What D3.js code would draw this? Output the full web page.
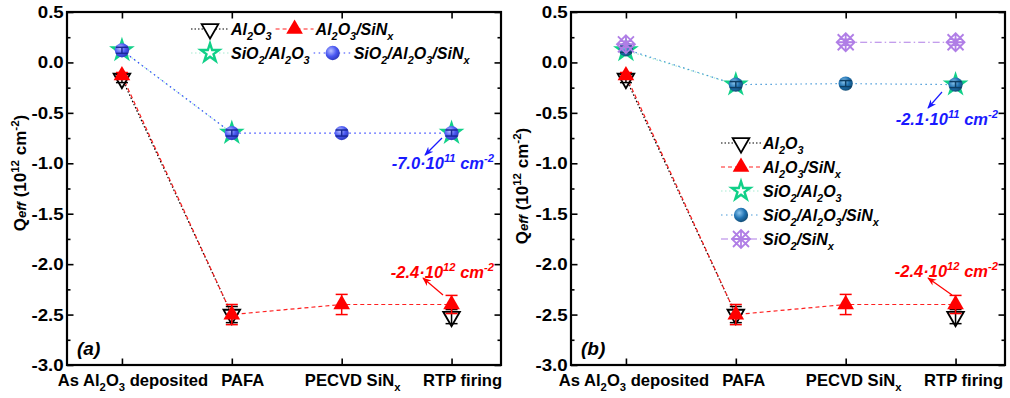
<!DOCTYPE html>
<html>
<head>
<meta charset="utf-8">
<script src="https://cdn.jsdelivr.net/npm/d3@7"></script>
<style>
  body { margin: 0; background: #fff; }
  svg { display: block; }
  text { font-family: "Liberation Sans", Arial, sans-serif; font-weight: bold; fill: #000; }
</style>
</head>
<body>
<svg id="chart" width="1010" height="398"></svg>
<script>
// markup: _{..} subscript, ^{..} superscript, ~{..} small italic
const categories = ["As Al_{2}O_{3} deposited", "PAFA", "PECVD SiN_{x}", "RTP firing"];
const seriesNames = ["Al_{2}O_{3}", "Al_{2}O_{3}/SiN_{x}", "SiO_{2}/Al_{2}O_{3}", "SiO_{2}/Al_{2}O_{3}/SiN_{x}", "SiO_{2}/SiN_{x}"];
const yTicks = [-3.0, -2.5, -2.0, -1.5, -1.0, -0.5, 0.0, 0.5];
const yMinor = [-2.75, -2.25, -1.75, -1.25, -0.75, -0.25, 0.25];

// Qeff values (1e12 cm^-2), null = not measured
const al2o3 = [-0.16, -2.5, null, -2.52];
const al2o3Err = [0.04, 0.08, null, 0.07];
const al2o3SiN = [-0.13, -2.5, -2.4, -2.4];
const al2o3SiNErr = [0.03, 0.1, 0.1, 0.09];
// panel (a)
const sio2Al2o3A = [0.12, -0.7, null, -0.7];
const sio2Al2o3SiNA = [0.12, -0.7, -0.7, -0.7];
// panel (b)
const sio2Al2o3B = [0.12, -0.22, null, -0.22];
const sio2Al2o3SiNB = [0.13, -0.22, -0.21, -0.22];
const sio2SiN = [0.18, null, 0.2, 0.2];
const smallErr = [0.03, 0.03, 0.03, 0.03];

const annotA = ["-7.0\u00B710^{11} cm^{-2}", "-2.4\u00B710^{12} cm^{-2}"];
const annotB = ["-2.1\u00B710^{11} cm^{-2}", "-2.4\u00B710^{12} cm^{-2}"];
const yLabel = "Q~{eff} (10^{12} cm^{-2})";

(() => {
const svg = d3.select("#chart");
const defs = svg.append("defs");

function sphere(id, light, base, dark) {
    const gr = defs.append("radialGradient").attr("id", id)
        .attr("cx", "38%").attr("cy", "35%").attr("r", "70%");
    gr.append("stop").attr("offset", "0%").attr("stop-color", light);
    gr.append("stop").attr("offset", "55%").attr("stop-color", base);
    gr.append("stop").attr("offset", "100%").attr("stop-color", dark);
}
sphere("sphA", "#b9c0ff", "#4a58f2", "#2c36b8");
sphere("sphB", "#8cc6ee", "#1f72b2", "#12496f");

["#ff0000", "#1a1aff"].forEach((c, i) => {
    defs.append("marker").attr("id", "arr" + i)
        .attr("viewBox", "0 0 10 10").attr("refX", 9).attr("refY", 5)
        .attr("markerWidth", 9).attr("markerHeight", 9).attr("markerUnits", "userSpaceOnUse")
        .attr("orient", "auto")
        .append("path").attr("d", "M0,1L10,5L0,9L3,5Z").attr("fill", c);
});

// rich text with sub/superscripts
function rich(sel, str, size) {
    const re = /([_^~])\{([^}]*)\}/g;
    let last = 0, m, cur = 0;
    const add = (txt, shift, fs, italic) => {
        if (!txt) return;
        const t = sel.append("tspan").text(txt).attr("font-size", fs);
        if (shift !== cur) t.attr("dy", shift - cur);
        if (italic) t.attr("font-style", "italic");
        cur = shift;
    };
    while ((m = re.exec(str)) !== null) {
        add(str.slice(last, m.index), 0, size);
        if (m[1] === "_") add(m[2], size * 0.3, size * 0.68);
        else if (m[1] === "^") add(m[2], -size * 0.42, size * 0.68);
        else add(m[2], 0, size * 0.78, true);
        last = re.lastIndex;
    }
    add(str.slice(last), 0, size);
    return sel;
}

const marginTop = 12, pw = 434, ph = 353;
const x = d3.scaleLinear().domain([-0.5, 3.45]).range([0, pw]);
const y = d3.scaleLinear().domain([-3, 0.5]).range([ph, 0]);
const line = d3.line().defined(d => d[1] != null).x(d => x(d[0])).y(d => y(d[1]));

const symbols = {
    down: { d: d3.symbol(d3.symbolTriangle, 120)(), rot: 180 },
    up: { d: d3.symbol(d3.symbolTriangle, 120)(), rot: 0 },
    star: { d: d3.symbol(d3.symbolStar, 105)(), rot: 0 },
    circle: { d: d3.symbol(d3.symbolCircle, 160)(), rot: 0 },
    xd: { d: "M-8,-8L8,8M-8,8L8,-8M0,-9L9,0L0,9L-9,0ZM-9,0L9,0M0,-9L0,9", rot: 0 }
};

function marker(g, s, cx, cy) {
    const sy = symbols[s.symbol];
    const p = g.append("path").attr("d", sy.d)
        .attr("transform", `translate(${cx},${cy}) rotate(${sy.rot})`);
    if (s.symbol === "down") p.attr("fill", "#fff").attr("stroke", "#000").attr("stroke-width", 1.8);
    else if (s.symbol === "up") p.attr("fill", "#ff0000");
    else if (s.symbol === "star") p.attr("fill", "#fff").attr("stroke", s.color).attr("stroke-width", 2.4).attr("stroke-linejoin", "miter");
    else if (s.symbol === "circle") p.attr("fill", s.fill);
    else p.attr("fill", "none").attr("stroke", s.color).attr("stroke-width", 1.8);
}

function seriesA(aVals, bVals, extra) {
    const list = [
        { name: seriesNames[0], values: al2o3, errs: al2o3Err, symbol: "down", color: "#000", line: "#000", dash: "1.5,2", errColor: "#000" },
        { name: seriesNames[1], values: al2o3SiN, errs: al2o3SiNErr, symbol: "up", color: "#ff0000", line: "#ff2020", dash: "4,3", errColor: "#ff0000" },
        aVals, bVals
    ];
    if (extra) list.push(extra);
    return list;
}

const panels = [
    {
        left: 67, tag: "(a)", labelX: -41, labelY: 161, catShift: 11,
        series: seriesA(
            { name: seriesNames[2], values: sio2Al2o3A, errs: smallErr, symbol: "star", color: "#10d088", line: "#a8ecd2", dash: "1.5,2.5", errColor: "#0a8a5a" },
            { name: seriesNames[3], values: sio2Al2o3SiNA, errs: smallErr, symbol: "circle", fill: "url(#sphA)", color: "#3a48f0", line: "#3344ff", dash: "1.5,3.5", errColor: "#1a2a9a" }
        ),
        annots: [
            { text: annotA[0], color: "#1a1aff", arr: 1, by: 157, from: [375, 126], to: [358, 143] },
            { text: annotA[1], color: "#ff0000", arr: 0, by: 266, from: [376, 283], to: [356, 266] }
        ],
        legend: "flow"
    },
    {
        left: 571, tag: "(b)", labelX: -43, labelY: 174, catShift: 8,
        series: seriesA(
            { name: seriesNames[2], values: sio2Al2o3B, errs: smallErr, symbol: "star", color: "#10d088", line: "#a8ecd2", dash: "1.5,2.5", errColor: "#0a8a5a" },
            { name: seriesNames[3], values: sio2Al2o3SiNB, errs: smallErr, symbol: "circle", fill: "url(#sphB)", color: "#1f72b2", line: "#4a9ad8", dash: "1.5,3.5", errColor: "#0d3f66" },
            { name: seriesNames[4], values: sio2SiN, errs: smallErr, symbol: "xd", color: "#b07ee6", line: "#b07ee6", dash: "7,3,1.5,3", errColor: "#b07ee6" }
        ),
        annots: [
            { text: annotB[0], color: "#1a1aff", arr: 1, by: 113, from: [371, 80], to: [357, 96] },
            { text: annotB[1], color: "#ff0000", arr: 0, by: 265, from: [381, 283], to: [357, 266] }
        ],
        legend: "column"
    }
];

panels.forEach(p => {
    const g = svg.append("g").attr("transform", `translate(${p.left},${marginTop})`);

    // axes, ticks pointing inward
    const axes = g.append("g");
    axes.append("g").call(d3.axisLeft(y).tickValues(yMinor).tickSize(-3.5).tickFormat(""));
    axes.append("g").attr("transform", `translate(${pw},0)`).call(d3.axisRight(y).tickValues(yMinor).tickSize(-3.5).tickFormat(""));
    axes.append("g").call(d3.axisLeft(y).tickValues(yTicks).tickSize(-6.5).tickPadding(3).tickFormat(d => d.toFixed(1)));
    axes.append("g").attr("transform", `translate(${pw},0)`).call(d3.axisRight(y).tickValues(yTicks).tickSize(-6.5).tickFormat(""));
    axes.append("g").attr("transform", `translate(0,${ph})`).call(d3.axisBottom(x).tickValues([0, 1, 2, 3]).tickSize(-6.5).tickFormat(""));
    axes.append("g").call(d3.axisTop(x).tickValues([0, 1, 2, 3]).tickSize(-6.5).tickFormat(""));
    axes.selectAll(".domain").remove();
    axes.selectAll(".tick line").attr("stroke", "#000").attr("stroke-width", 1.6);
    axes.selectAll(".tick text").attr("font-size", 17).attr("font-family", null).attr("fill", "#000")
        .attr("transform", "scale(1.1,1)");

    g.append("rect").attr("width", pw).attr("height", ph)
        .attr("fill", "none").attr("stroke", "#000").attr("stroke-width", 2.2);

    // category labels (sit a little right of their ticks in the original)
    categories.forEach((c, i) => {
        rich(g.append("text").attr("x", x(i) + p.catShift).attr("y", ph + 21)
            .attr("text-anchor", "middle"), c, 16.6);
    });

    // y label
    rich(g.append("text").attr("transform", `translate(${p.labelX},${p.labelY}) rotate(-90)`)
        .attr("text-anchor", "middle"), yLabel, 17);

    g.append("text").attr("x", 10).attr("y", ph - 10).attr("font-size", 19)
        .attr("font-style", "italic").text(p.tag);

    // series
    p.series.forEach(s => {
        const pts = s.values.map((v, i) => [i, v]);
        g.append("path").datum(pts).attr("d", line)
            .attr("fill", "none").attr("stroke", s.line).attr("stroke-width", 1.2)
            .attr("stroke-dasharray", s.dash);
    });
    p.series.forEach(s => {
        const pts = s.values.map((v, i) => [i, v, s.errs[i]]).filter(d => d[1] != null);
        pts.forEach(d => marker(g, s, x(d[0]), y(d[1])));
        pts.forEach(d => {
            const cx = x(d[0]), y1 = y(d[1] + d[2]), y2 = y(d[1] - d[2]);
            const e = g.append("g").attr("stroke", s.errColor).attr("stroke-width", 1.5);
            e.append("line").attr("x1", cx).attr("x2", cx).attr("y1", y1).attr("y2", y2);
            e.append("line").attr("x1", cx - 6).attr("x2", cx + 6).attr("y1", y1).attr("y2", y1);
            e.append("line").attr("x1", cx - 6).attr("x2", cx + 6).attr("y1", y2).attr("y2", y2);
        });
    });

    // annotations
    p.annots.forEach(a => {
        rich(g.append("text").attr("x", pw - 7).attr("y", a.by).attr("text-anchor", "end")
            .attr("font-style", "italic").style("fill", a.color), a.text, 16.5);
        g.append("line").attr("x1", a.from[0]).attr("y1", a.from[1]).attr("x2", a.to[0]).attr("y2", a.to[1])
            .attr("stroke", a.color).attr("stroke-width", 1.2).attr("marker-end", `url(#arr${a.arr})`);
    });

    // legend
    const lg = g.append("g");
    const item = (s, lx, ly, len) => {
        lg.append("line").attr("x1", lx).attr("x2", lx + len).attr("y1", ly).attr("y2", ly)
            .attr("stroke", s.line).attr("stroke-width", 1.2).attr("stroke-dasharray", s.dash);
        marker(lg, s, lx + len / 2, ly);
        const t = rich(lg.append("text").attr("x", lx + len + 2).attr("y", ly).attr("dy", "0.36em")
            .attr("font-style", "italic"), s.name, 16);
        return lx + len + 2 + t.node().getComputedTextLength();
    };
    if (p.legend === "flow") {
        const rows = [[p.series[0], p.series[1]], [p.series[2], p.series[3]]];
        rows.forEach((r, ri) => {
            let lx = 124;
            r.forEach(s => { lx = item(s, lx, 17 + ri * 24, 38) + 4; });
        });
    } else {
        p.series.forEach((s, i) => item(s, 150, 131 + i * 24, 40));
    }
});
})();
</script>
</body>
</html>
